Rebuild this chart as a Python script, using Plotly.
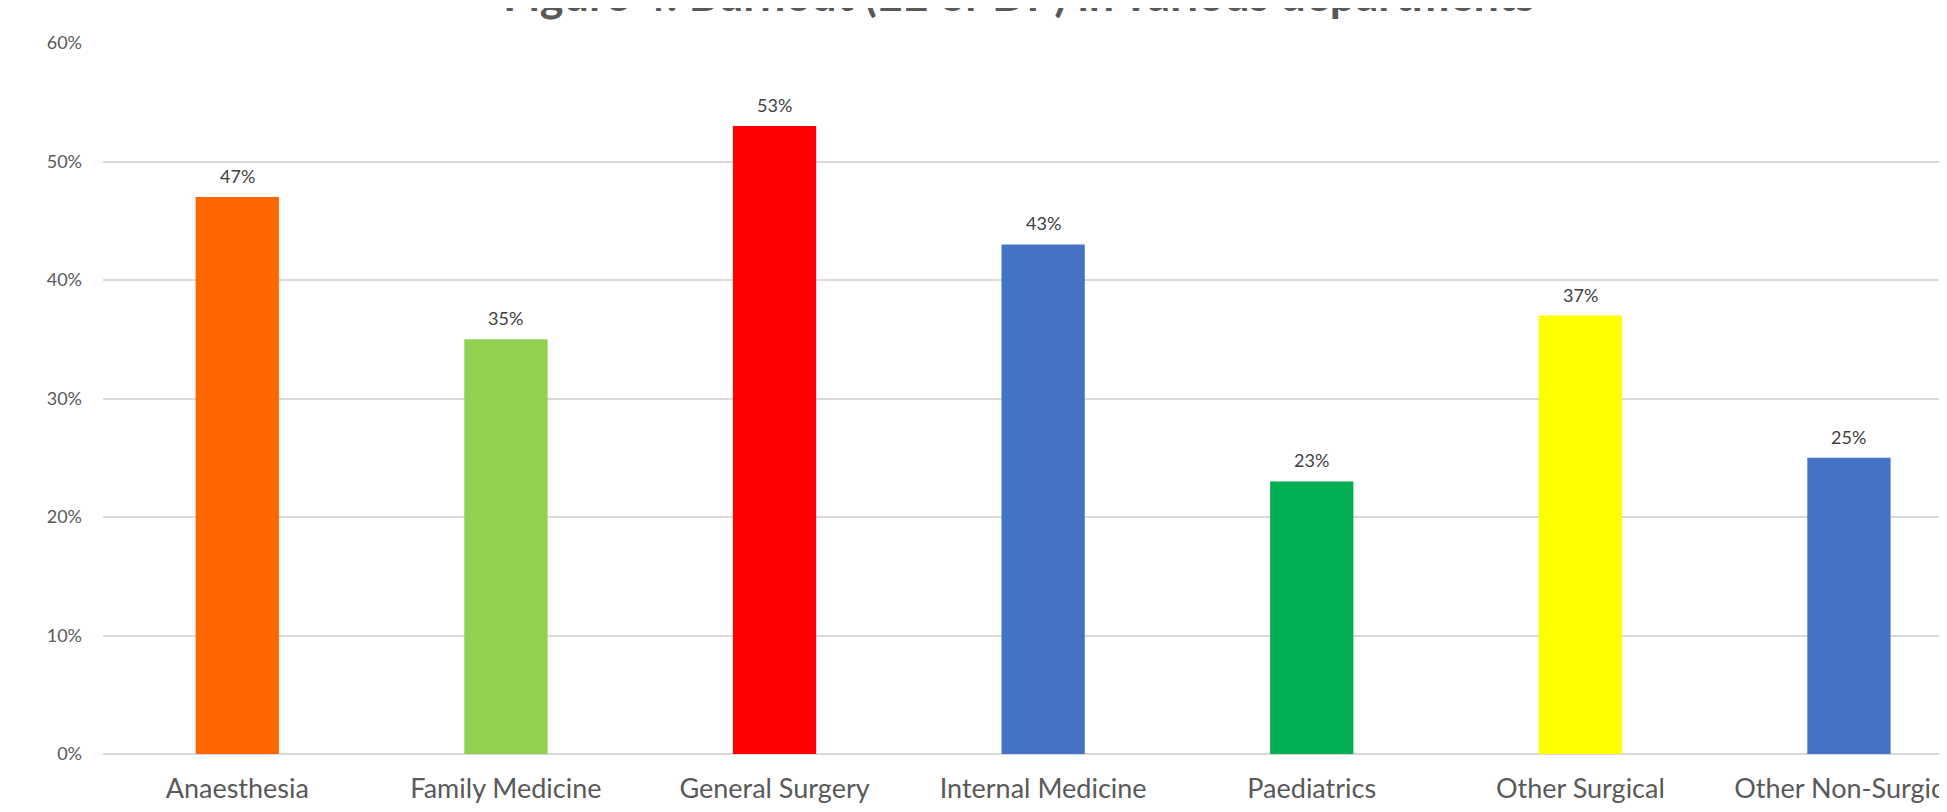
import plotly.graph_objects as go

categories = ["Anaesthesia", "Family Medicine", "General Surgery", "Internal Medicine",
              "Paediatrics", "Other Surgical<br>Departments", "Other Non-Surgical<br>Departments"]
values = [47, 35, 53, 43, 23, 37, 25]
colors = ["#FF6600", "#92D050", "#FF0000", "#4472C4", "#00B050", "#FFFF00", "#4472C4"]
title = "Figure 4: Burnout (EE or DP) in various departments"

FONT = "Lato, 'Open Sans', sans-serif"

fig = go.Figure(go.Bar(
    x=list(range(len(categories))), y=values,
    marker=dict(color=colors, line=dict(width=0)),
    hoverinfo="skip",
))

for i, v in enumerate(values):
    fig.add_annotation(x=i, y=v, text=f"{v}%", showarrow=False, yanchor="bottom",
                       yshift=8, font=dict(family=FONT, size=18, color="#404040"))

fig.add_annotation(xref="paper", yref="paper", x=(1019 - 103) / (1947 - 103), y=1.069,
                   text=f"<b>{title}</b>", showarrow=False, xanchor="center", yanchor="middle",
                   font=dict(family=FONT, size=45, color="#595959"))

fig.update_layout(
    width=1939, height=804,
    margin=dict(l=95, r=0, t=35, b=58, autoexpand=False),
    plot_bgcolor="white", paper_bgcolor="white",
    bargap=0.69, showlegend=False,
    font=dict(family=FONT, color="#595959"),
)
fig.update_xaxes(
    tickmode="array", tickvals=list(range(len(categories))), ticktext=categories,
    range=[-0.5, 6.365], showgrid=False, zeroline=False, showline=False,
    tickfont=dict(family=FONT, size=27, color="#595959"),
    ticks="", ticklabelstandoff=16, automargin=False, ticklabeloverflow="allow",
)
fig.update_yaxes(
    range=[0, 60], dtick=10, ticksuffix="%", showgrid=True, gridcolor="#D9D9D9",
    gridwidth=1.5, zeroline=True, zerolinecolor="#D9D9D9", zerolinewidth=2,
    showline=False, tickfont=dict(family=FONT, size=18, color="#595959"),
    ticks="", ticklabelstandoff=20, automargin=False,
)

fig.write_html("out.html")
